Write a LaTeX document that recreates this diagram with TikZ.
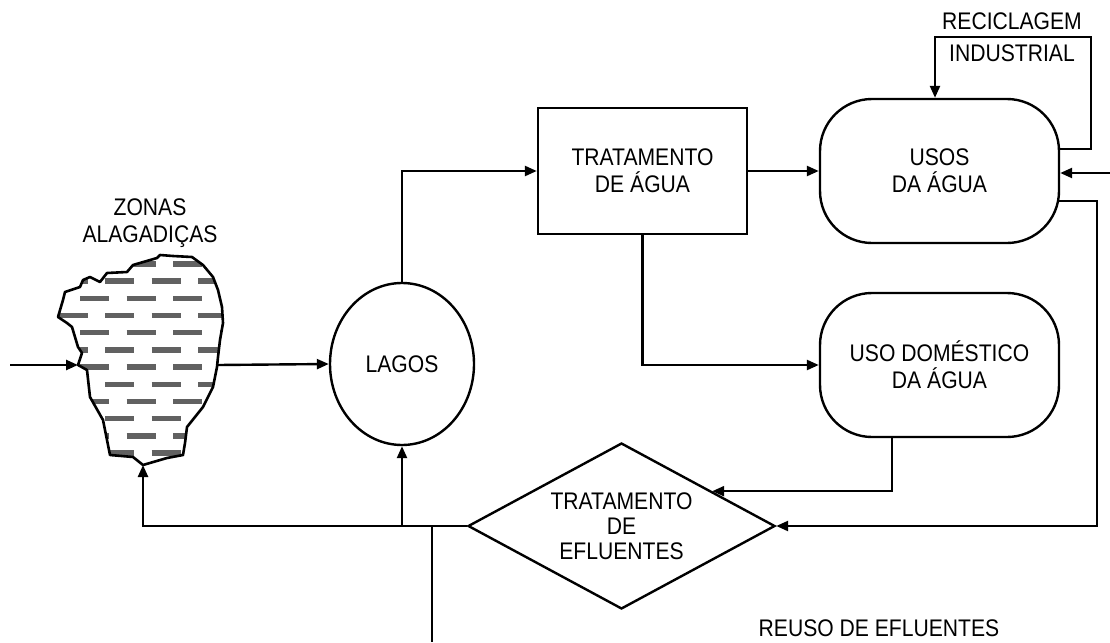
\documentclass[tikz,border=0pt]{standalone}
\usepackage{fontspec}
\setmainfont{Liberation Sans}[FakeStretch=0.88]
\usetikzlibrary{arrows.meta,shapes.geometric}
\begin{document}
\begin{tikzpicture}[x=1pt,y=-1pt,
  line width=2.4pt,
  arr/.style={-{Triangle[length=12pt,width=10pt]}},
  lbl/.style={font=\fontsize{24}{27}\selectfont,align=center,inner sep=0pt},
  boxsq/.style={draw,rectangle,minimum width=209pt,minimum height=126pt,inner sep=0pt,lbl},
  boxrd/.style={draw,rectangle,rounded corners=52pt,minimum width=239pt,minimum height=144pt,inner sep=0pt,lbl},
  lake/.style={draw,ellipse,minimum width=144pt,minimum height=162pt,inner sep=0pt,lbl},
  decis/.style={draw,diamond,shape aspect=1.85,minimum width=307pt,minimum height=166pt,inner sep=0pt,font=\fontsize{24}{25}\selectfont,align=center},
  dashmark/.style={line width=5.5pt,black!62},
  wetline/.style={line width=2.6pt,line join=round}
]
\path[use as bounding box] (0,0) rectangle (1110,642);

% wetland
\def\wetpath{(192,257) -- (203,265) -- (213,277) -- (218,290) -- (222,307) -- (223,323) -- (220,340) -- (218,357) -- (217,367) -- (213,387) -- (203,407) -- (187,427) -- (185,443) -- (183,455) -- (167,458) -- (143,465) -- (133,457) -- (110,455) -- (107,440) -- (103,420) -- (90,397) -- (87,370) -- (78,365) -- (82,353) -- (78,347) -- (72,327) -- (67,323) -- (58,317) -- (63,300) -- (65,292) -- (80,287) -- (83,280) -- (90,277) -- (100,282) -- (107,273) -- (127,272) -- (133,265) -- (157,258) -- (160,255) -- (173,256) -- cycle}
\begin{scope}
  \clip \wetpath;
  \foreach \k in {0,...,11}{
    \pgfmathsetmacro\yy{264+17.18*\k}
    \pgfmathsetmacro\off{ifthenelse(mod(\k,2)==0,80,105)}
    \foreach \i in {-2,...,4}{
      \pgfmathsetmacro\xa{\off+46.5*\i}
      \draw[dashmark] (\xa,\yy) -- ++(29,0);
    }
  }
\end{scope}
\draw[wetline] \wetpath;
\coordinate (wetL) at (78,365);
\coordinate (wetR) at (218,365);
\coordinate (wetB) at (143,465);
\node[lbl] (wettxt) at (150,223) {ZONAS\\ALAGADIÇAS};

% nodes
\node[lake] (lagos) at (402,364) {LAGOS};
\node[boxsq] (tra) at (642.5,171) {TRATAMENTO\\DE ÁGUA};
\node[boxrd] (usos) at (939.5,171) {USOS\\DA ÁGUA};
\node[boxrd] (dom) at (939.5,365) {USO DOMÉSTICO\\DA ÁGUA};
\node[decis] (efl) at (621.5,526) {TRATAMENTO\\DE\\EFLUENTES};

\node[lbl] (rec1) at (1012,21) {RECICLAGEM};
\node[lbl] (rec2) at (1012,53) {INDUSTRIAL};
\node[lbl] (reuso) at (879,628) {REUSO DE EFLUENTES};

% free ends / waypoints
\coordinate (in0) at (10,365);
\coordinate (in1) at (1110,173);
\coordinate (rc) at (1091,37);
\coordinate (rr) at (1097,526);
\coordinate (reusoEnd) at (432,642);

% connectors
\draw[arr] (in0) -- (wetL);
\draw[arr] (wetR) -- (lagos.west);
\draw[arr] (lagos.north) |- (tra.west);
\draw[arr] (tra.east) -- (usos.west);
\draw[arr] (tra.south) |- (dom.west);
\draw[arr] ([yshift=22pt]usos.east) -| (rc) -| ([xshift=-4.5pt]usos.north);
\draw[arr] (in1) -- (usos.east |- in1);
\draw[arr] ([xshift=-1.5pt,yshift=-30pt]usos.east) -| (rr) -- (efl.east);
\draw[arr] ([xshift=-47.5pt]dom.south) |- (efl.21.5);
\draw[arr] (efl.west) -| (wetB);
\draw[arr] (lagos.south |- efl.west) -- (lagos.south);
\draw (reusoEnd |- efl.west) -- (reusoEnd);
\end{tikzpicture}
\end{document}
